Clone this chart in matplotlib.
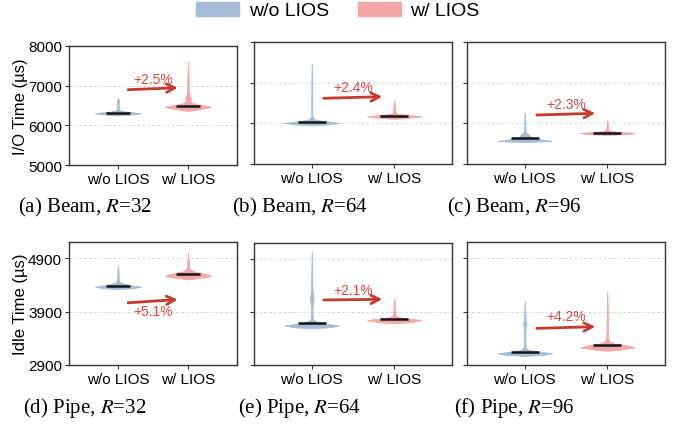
import matplotlib
matplotlib.use("Agg")
import matplotlib.pyplot as plt
from matplotlib.patches import Patch
import numpy as np

plt.rcParams['font.family'] = ['Liberation Sans', 'DejaVu Sans']
plt.rcParams['mathtext.fontset'] = 'stix'

# ---------------- data ----------------
groups = ["w/o LIOS", "w/ LIOS"]
captions = ["(a) Beam, $R$=32", "(b) Beam, $R$=64", "(c) Beam, $R$=96",
            "(d) Pipe, $R$=32", "(e) Pipe, $R$=64", "(f) Pipe, $R$=96"]
gains = ["+2.5%", "+2.4%", "+2.3%", "+5.1%", "+2.1%", "+4.2%"]

io_yticks = [5000, 6000, 7000, 8000]
idle_yticks = [2900, 3900, 4900]

# density profiles (value, relative width) and medians
a_wo_y = [6250, 6275, 6300, 6320, 6345, 6370, 6420, 6500, 6580, 6615, 6650, 6690]
a_wo_w = [0, 0.6, 1.0, 0.8, 0.35, 0.1, 0.04, 0.025, 0.04, 0.06, 0.025, 0]
a_w_y = [6360, 6400, 6440, 6470, 6500, 6540, 6580, 6640, 6700, 6760, 6850, 7000, 7300, 7614]
a_w_w = [0, 0.45, 0.85, 1.0, 0.7, 0.3, 0.14, 0.1, 0.12, 0.07, 0.045, 0.035, 0.025, 0]
a_med = [6320, 6480]

b_wo_y = [5950, 5980, 6010, 6040, 6070, 6100, 6140, 6200, 6400, 7000, 7450]
b_wo_w = [0, 0.7, 1.0, 0.65, 0.3, 0.1, 0.04, 0.02, 0.018, 0.015, 0]
b_w_y = [6110, 6140, 6170, 6190, 6215, 6240, 6280, 6350, 6450, 6570]
b_w_w = [0, 0.6, 1.0, 0.75, 0.35, 0.1, 0.035, 0.04, 0.025, 0]
b_med = [6040, 6185]

c_wo_y = [5540, 5565, 5590, 5620, 5650, 5680, 5720, 5760, 5800, 5900, 6100, 6254]
c_wo_w = [0, 1.0, 0.75, 0.35, 0.22, 0.2, 0.15, 0.07, 0.03, 0.02, 0.015, 0]
c_w_y = [5715, 5740, 5765, 5785, 5810, 5850, 5950, 6082]
c_w_w = [0, 0.8, 1.0, 0.5, 0.12, 0.035, 0.025, 0]
c_med = [5635, 5760]

d_wo_y = [4315, 4340, 4365, 4390, 4420, 4450, 4500, 4600, 4700, 4760]
d_wo_w = [0, 0.7, 1.0, 0.6, 0.25, 0.07, 0.035, 0.025, 0.018, 0]
d_w_y = [4500, 4530, 4560, 4590, 4620, 4650, 4690, 4750, 4850, 5000]
d_w_w = [0, 0.5, 1.0, 0.9, 0.55, 0.25, 0.08, 0.045, 0.03, 0]
d_med = [4385, 4605]

e_wo_y = [3590, 3615, 3645, 3680, 3720, 3760, 3820, 3950, 4050, 4150, 4250, 4350, 4600, 5056]
e_wo_w = [0, 0.7, 1.0, 0.5, 0.15, 0.05, 0.03, 0.022, 0.04, 0.07, 0.04, 0.022, 0.018, 0]
e_w_y = [3685, 3715, 3745, 3770, 3800, 3830, 3900, 4000, 4167]
e_w_w = [0, 0.7, 1.0, 0.65, 0.2, 0.05, 0.035, 0.025, 0]
e_med = [3690, 3765]

f_wo_y = [3070, 3095, 3120, 3150, 3180, 3220, 3300, 3500, 3620, 3670, 3720, 3850, 4104]
f_wo_w = [0, 0.75, 1.0, 0.5, 0.15, 0.045, 0.025, 0.022, 0.04, 0.06, 0.035, 0.02, 0]
f_w_y = [3165, 3195, 3230, 3265, 3295, 3330, 3400, 3600, 3900, 4280]
f_w_w = [0, 0.6, 1.0, 0.75, 0.35, 0.1, 0.035, 0.025, 0.02, 0]
f_med = [3152, 3280]

# arrow start/end (x in category units, y in data) and label position
a_arrow = [(0.145, 6898), (0.855, 6949), (0.5, 7168)]
b_arrow = [(0.145, 6616), (0.855, 6655), (0.5, 6901)]
c_arrow = [(0.145, 6205), (0.855, 6247), (0.5, 6476)]
d_arrow = [(0.145, 4063), (0.855, 4125), (0.5, 3906)]
e_arrow = [(0.145, 4126), (0.855, 4138), (0.5, 4320)]
f_arrow = [(0.145, 3585), (0.855, 3617), (0.5, 3817)]

panels = [
    ((a_wo_y, a_wo_w), (a_w_y, a_w_w), a_med, a_arrow),
    ((b_wo_y, b_wo_w), (b_w_y, b_w_w), b_med, b_arrow),
    ((c_wo_y, c_wo_w), (c_w_y, c_w_w), c_med, c_arrow),
    ((d_wo_y, d_wo_w), (d_w_y, d_w_w), d_med, d_arrow),
    ((e_wo_y, e_wo_w), (e_w_y, e_w_w), e_med, e_arrow),
    ((f_wo_y, f_wo_w), (f_w_y, f_w_w), f_med, f_arrow),
]

# ---------------- style ----------------
W, H = 676, 427
BLUE = "#a5bbd6"
PINK = "#f3a8a8"
ARROW = "#c43a2f"
TXT = "#d64a3f"

fig = plt.figure(figsize=(W / 100, H / 100), dpi=100)

# pixel rects: left, top, right, bottom
rects = [(69, 47, 237, 166), (254, 43, 452, 165), (467, 43, 665, 165),
         (69, 243, 237, 366), (254, 244, 452, 366), (467, 243, 665, 366)]
cap_pos = [(85, 207), (300, 207), (514, 207), (85, 408), (300, 408), (514, 408)]

for i, (vwo, vw, med, arr) in enumerate(panels):
    l, t, r, b = rects[i]
    ax = fig.add_axes([l / W, 1 - b / H, (r - l) / W, (b - t) / H])
    stats = []
    for (ys, ws), m in zip((vwo, vw), med):
        ys = np.asarray(ys, float)
        ws = np.asarray(ws, float)
        stats.append(dict(coords=ys, vals=ws, mean=m, median=m,
                          min=ys.min(), max=ys.max()))
    parts = ax.violin(stats, positions=[0, 1], widths=0.66,
                      showmeans=False, showextrema=False, showmedians=False)
    for body, col in zip(parts['bodies'], (BLUE, PINK)):
        body.set_facecolor(col)
        body.set_edgecolor(col)
        body.set_linewidth(0.6)
        body.set_alpha(1)
    ax.hlines(med, [-0.17, 0.83], [0.17, 1.17], color="#151515", lw=1.8, zorder=3)

    (x0, y0), (x1, y1), (xt, yt) = arr
    ax.annotate("", xy=(x1, y1), xytext=(x0, y0),
                arrowprops=dict(arrowstyle="->", color=ARROW, lw=2,
                                mutation_scale=15, shrinkA=0, shrinkB=0))
    ax.text(xt, yt, gains[i], color=TXT, fontsize=10, ha="center", va="center")

    ax.set_xlim(-0.7, 1.7)
    ax.set_xticks([0, 1])
    ax.set_xticklabels(groups, fontsize=11)
    if i < 3:
        ax.set_ylim(5000, 8000)
        ax.set_yticks(io_yticks)
        grid_vals = [6000, 7000]
    else:
        ax.set_ylim(2900, 5200)
        ax.set_yticks(idle_yticks)
        grid_vals = [3900, 4900]
    for gv in grid_vals:
        ax.axhline(gv, color="#d9d9d9", lw=0.7, ls=(0, (3, 2)), zorder=0)
    if i % 3 == 0:
        ax.tick_params(axis="y", labelsize=11)
        ax.set_ylabel("I/O Time (µs)" if i == 0 else "Idle Time (µs)", fontsize=12, labelpad=0)
    else:
        ax.tick_params(axis="y", labelleft=False)
    ax.tick_params(direction="out", length=3, width=0.8, color="#333333", pad=2)
    for sp in ax.spines.values():
        sp.set_color("#333333")
        sp.set_linewidth(1.0)

    cx, cy = cap_pos[i]
    fig.text(cx / W, 1 - cy / H, captions[i], fontsize=15, ha="center", va="center",
             family="Liberation Serif")

handles = [Patch(facecolor=BLUE, edgecolor=BLUE), Patch(facecolor=PINK, edgecolor=PINK)]
fig.legend(handles, groups, loc="upper center", bbox_to_anchor=(0.5, 1.035), ncol=2,
           frameon=False, fontsize=14, handlelength=2.2, handleheight=0.75,
           handletextpad=0.5, columnspacing=1.5)

fig.savefig("out.png", dpi=100)
